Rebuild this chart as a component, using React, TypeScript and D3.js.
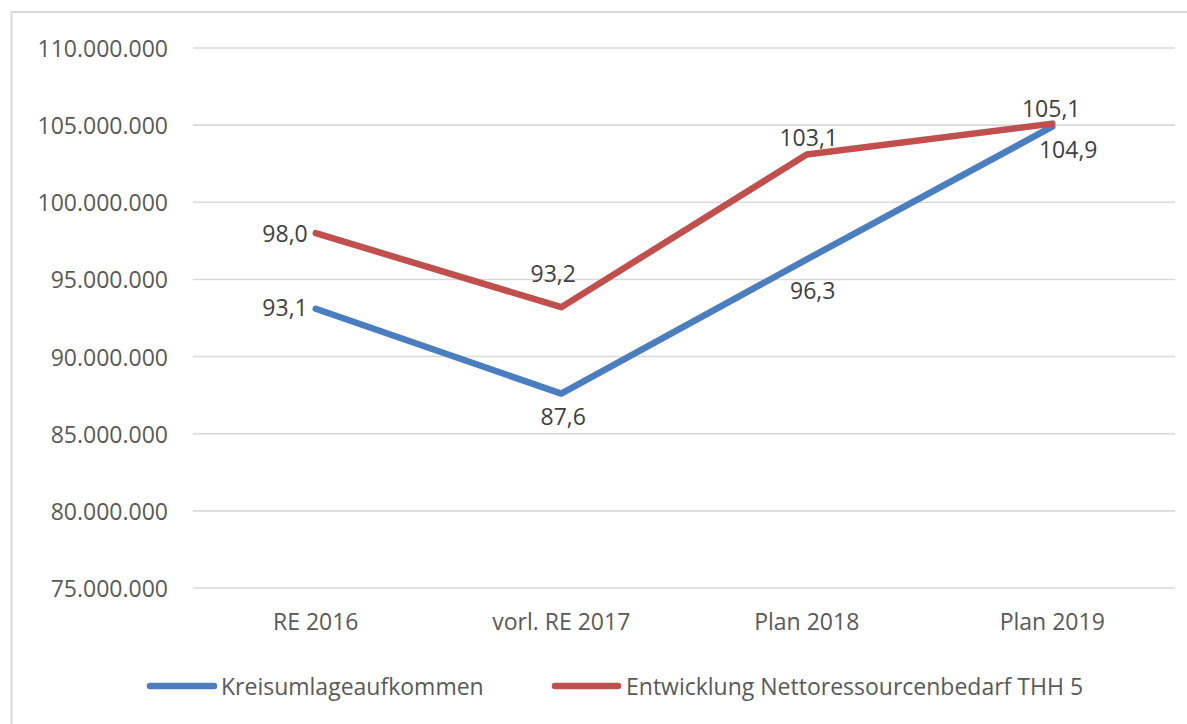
import React from "react";
import * as d3 from "d3";

const categories = ["RE 2016", "vorl. RE 2017", "Plan 2018", "Plan 2019"];
const kreisumlage = [93100000, 87600000, 96300000, 104900000];
const netto = [98000000, 93200000, 103100000, 105100000];
const seriesNames = ["Kreisumlageaufkommen", "Entwicklung Nettoressourcenbedarf THH 5"];
const yTicks = [75000000, 80000000, 85000000, 90000000, 95000000, 100000000, 105000000, 110000000];

// label placement offsets (dx, dy from point, anchor)
const blueLabelPos = [
  { dx: -8, dy: -2, anchor: "end" },
  { dx: 2, dy: 22, anchor: "middle" },
  { dx: 6, dy: 31, anchor: "middle" },
  { dx: 16, dy: 22, anchor: "middle" },
];
const redLabelPos = [
  { dx: -8, dy: 0, anchor: "end" },
  { dx: -8, dy: -34, anchor: "middle" },
  { dx: 2, dy: -17, anchor: "middle" },
  { dx: -1, dy: -16, anchor: "middle" },
];

const W = 1187;
const H = 724;
const FONT = "'Open Sans', sans-serif";
const TEXT = "#595959";
const GRID = "#d9d9d9";
const BLUE = "#4a7ebf";
const RED = "#c0504d";

const de = d3.formatLocale({ decimal: ",", thousands: ".", grouping: [3], currency: ["", " €"] });
const tickFmt = de.format(",.0f");
const labelFmt = (v: number) => de.format(",.1f")(v / 1e6);

export default function App() {
  const x = d3.scaleBand<string>().domain(categories).range([193, 1175]);
  const y = d3.scaleLinear().domain([75000000, 110000000]).range([588, 48]);
  const cx = (c: string) => (x(c) as number) + x.bandwidth() / 2;

  const line = d3
    .line<number>()
    .x((_, i) => cx(categories[i]))
    .y((d) => y(d));

  const series = [
    { name: seriesNames[0], values: kreisumlage, color: BLUE, pos: blueLabelPos },
    { name: seriesNames[1], values: netto, color: RED, pos: redLabelPos },
  ];

  const legend = [
    { x1: 150, x2: 214, tx: 221, name: seriesNames[0], color: BLUE },
    { x1: 555, x2: 618, tx: 626, name: seriesNames[1], color: RED },
  ];

  return (
    <svg
      width={W}
      height={H}
      style={{ position: "fixed", left: 0, top: 0, background: "#fff" }}
      fontFamily={FONT}
    >
      <rect x={0} y={0} width={W} height={H} fill="#fff" />
      <rect x={11.5} y={12} width={1300} height={900} fill="none" stroke={GRID} strokeWidth={2} />

      {yTicks.map((t) => (
        <g key={t}>
          <line x1={193} x2={1175} y1={y(t)} y2={y(t)} stroke={GRID} strokeWidth={1.6} />
          <text
            x={168}
            y={y(t)}
            textAnchor="end"
            dominantBaseline="central"
            fontSize={23}
            fill={TEXT}
          >
            {tickFmt(t)}
          </text>
        </g>
      ))}

      {categories.map((c) => (
        <text
          key={c}
          x={cx(c)}
          y={621}
          textAnchor="middle"
          dominantBaseline="central"
          fontSize={23}
          fill={TEXT}
        >
          {c}
        </text>
      ))}

      {series.map((s) => (
        <path
          key={s.name}
          d={line(s.values) || ""}
          fill="none"
          stroke={s.color}
          strokeWidth={6.5}
          strokeLinejoin="round"
          strokeLinecap="round"
        />
      ))}

      {series.map((s) =>
        s.values.map((v, i) => (
          <text
            key={s.name + i}
            x={cx(categories[i]) + s.pos[i].dx}
            y={y(v) + s.pos[i].dy}
            textAnchor={s.pos[i].anchor as any}
            dominantBaseline="central"
            fontSize={23}
            fill="#404040"
          >
            {labelFmt(v)}
          </text>
        ))
      )}

      {legend.map((l) => (
        <g key={l.name}>
          <line
            x1={l.x1}
            x2={l.x2}
            y1={686}
            y2={686}
            stroke={l.color}
            strokeWidth={6.5}
            strokeLinecap="round"
          />
          <text x={l.tx} y={686} dominantBaseline="central" fontSize={23} fill={TEXT}>
            {l.name}
          </text>
        </g>
      ))}
    </svg>
  );
}
